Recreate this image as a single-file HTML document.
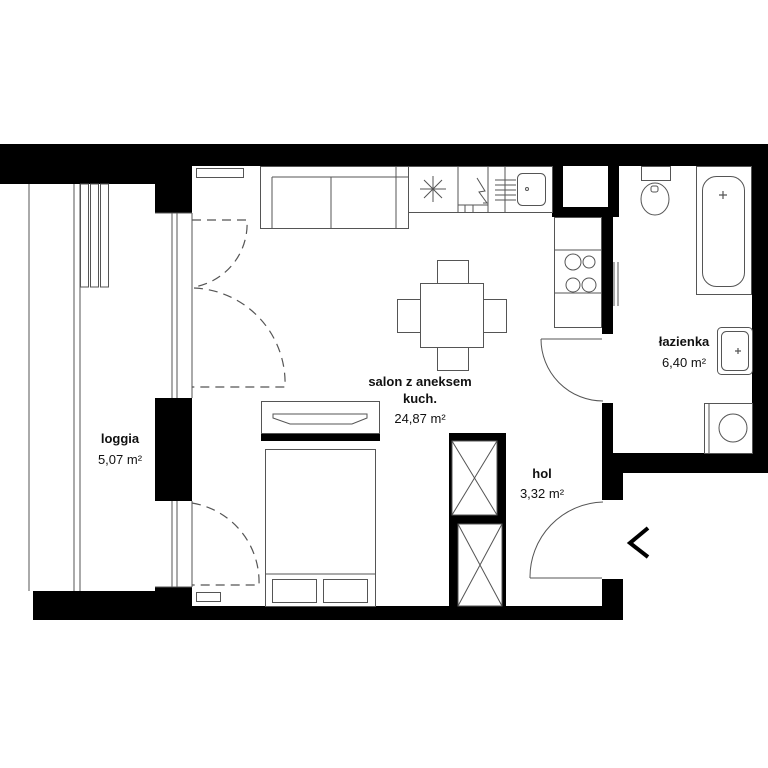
<!DOCTYPE html>
<html><head><meta charset="utf-8"><style>
html,body{margin:0;padding:0;background:#fff;}
svg{display:block;}
text{font-family:"Liberation Sans",sans-serif;font-size:13px;fill:#111;text-anchor:middle;}
.b{font-weight:bold;}
</style></head><body>
<svg width="768" height="768" viewBox="0 0 768 768" xmlns="http://www.w3.org/2000/svg">
<g fill="#000">
<rect x="0" y="144" width="768" height="22"/>
<rect x="0" y="144" width="155" height="40"/>
<rect x="155" y="144" width="37" height="69"/>
<rect x="155" y="398" width="37" height="103"/>
<rect x="33" y="606" width="590" height="14"/>
<rect x="33" y="591" width="122" height="29"/>
<rect x="155" y="587" width="37" height="33"/>
<rect x="752" y="144" width="16" height="329"/>
<rect x="602" y="453" width="166" height="20"/>
<rect x="552" y="144" width="11" height="73"/>
<rect x="608" y="144" width="11" height="73"/>
<rect x="552" y="207" width="67" height="10"/>
<rect x="602" y="217" width="11" height="117"/>
<rect x="602" y="403" width="11" height="60"/>
<rect x="602" y="453" width="21" height="47"/>
<rect x="602" y="579" width="21" height="41"/>
<rect x="449" y="433" width="57" height="173"/>
<rect x="261" y="433" width="119" height="8"/>
</g>
<g fill="#fff" stroke="#555" stroke-width="1">
<rect x="452" y="441" width="45" height="74"/>
<rect x="458" y="524" width="44" height="82"/>
<rect x="564" y="166" width="44" height="41" stroke="none"/>
</g>
<g stroke="#555" stroke-width="1" fill="none">
<path d="M452 441L497 515M497 441L452 515M458 524L502 606M502 524L458 606"/>
<path d="M29 184V591M74 184V591M80 184V591"/>
<rect x="80.5" y="184" width="8" height="103"/>
<rect x="90.5" y="184" width="8" height="103"/>
<rect x="100.5" y="184" width="8" height="103"/>
<path d="M172 213V398M177 213V398M192 213V398M172 501V587M177 501V587M192 501V587M155 213H192M155 587H192"/>
<rect x="196.5" y="168.5" width="47" height="9"/>
<rect x="196.5" y="592.5" width="24" height="9"/>
<rect x="260.5" y="166.5" width="148" height="62"/>
<path d="M272 177V229M272 177H408M331 177V229M396 166V229"/>
<rect x="408.5" y="166.5" width="144" height="46"/>
<path d="M458 166V213M488 166V213M505 166V213M458 205H488M465 205V213M473 205V213M420 189H446M433 176V202M424 180L442 198M442 180L424 198"/>
<path d="M477 178L485 191L479 192L487 203M484 199L487 203L483 203"/>
<path d="M495 180H516M495 185H516M495 190H516M495 195H516M495 200H516"/>
<rect x="517.5" y="173.5" width="28" height="32" rx="5"/>
<circle cx="527" cy="189" r="1.5"/>
<rect x="554.5" y="217.5" width="47" height="110"/>
<path d="M554 250H602M554 293H602"/>
<circle cx="573" cy="262" r="8"/><circle cx="589" cy="262" r="6"/>
<circle cx="573" cy="285" r="7"/><circle cx="589" cy="285" r="7"/>
<path d="M614 262V306M618 262V306"/>
<rect x="420.5" y="283.5" width="63" height="64"/>
<rect x="437.5" y="260.5" width="31" height="23"/>
<rect x="437.5" y="347.5" width="31" height="23"/>
<rect x="397.5" y="299.5" width="23" height="33"/>
<rect x="483.5" y="299.5" width="23" height="33"/>
<rect x="261.5" y="401.5" width="118" height="32"/>
<path d="M273 414H367V418L352 424H290L273 418Z"/>
<rect x="265.5" y="449.5" width="110" height="157"/>
<path d="M265 574H376"/>
<rect x="272.5" y="579.5" width="44" height="23"/>
<rect x="323.5" y="579.5" width="44" height="23"/>
<rect x="641.5" y="166.5" width="29" height="14"/>
<ellipse cx="655" cy="199" rx="14" ry="16"/>
<rect x="651" y="186" width="7" height="6" rx="2"/>
<rect x="696.5" y="166.5" width="55" height="128"/>
<rect x="702.5" y="176.5" width="42" height="110" rx="14"/>
<rect x="717.5" y="327.5" width="35" height="47" rx="4"/>
<rect x="721.5" y="331.5" width="27" height="39" rx="5"/>
<rect x="704.5" y="403.5" width="48" height="50"/>
<circle cx="733" cy="428" r="14"/>
<path d="M709 403V453"/>
<path d="M541 339H602M541 339A62 62 0 0 0 603 401"/>
<path d="M530 578H602M530 578A75 75 0 0 1 603 502"/>
</g>
<g stroke="#555" stroke-width="1.2"><path d="M719 195h8M723 191v8M735 351h6M738 348v6"/></g>
<g stroke="#555" stroke-width="1.2" fill="none" stroke-dasharray="9 6">
<path d="M192 220H247A64 64 0 0 1 194 287"/>
<path d="M194 288A95 95 0 0 1 285 387H192"/>
<path d="M192 503A80 80 0 0 1 259 585H192"/>
</g>
<path d="M648 528L630 543L648 557" stroke="#000" stroke-width="4" fill="none"/>
<text x="120" y="443" class="b">loggia</text>
<text x="120" y="464">5,07 m²</text>
<text x="420" y="386" class="b">salon z aneksem</text>
<text x="420" y="403" class="b">kuch.</text>
<text x="420" y="423">24,87 m²</text>
<text x="542" y="478" class="b">hol</text>
<text x="542" y="498">3,32 m²</text>
<text x="684" y="346" class="b">łazienka</text>
<text x="684" y="367">6,40 m²</text>
</svg>
</body></html>
